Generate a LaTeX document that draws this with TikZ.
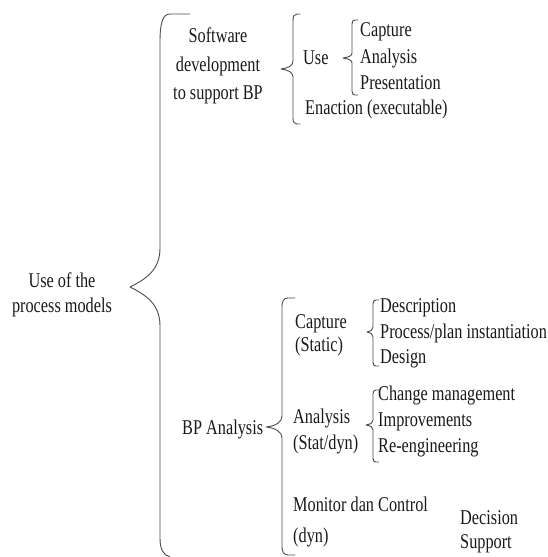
\documentclass[tikz,border=0pt]{standalone}
\usepackage{fontspec}
\setmainfont[FakeStretch=0.775]{Liberation Serif}
\begin{document}
\begin{tikzpicture}[x=1pt,y=-1pt,
  lbl/.style={font=\fontsize{21}{25}\selectfont, inner sep=0pt, text=black!90},
  brc/.style={draw=black!70, line width=0.9pt, line cap=round, line join=round}]
\useasboundingbox (0,0) rectangle (547,557);

% ---------- texts ----------
\node[lbl, anchor=base] (root1) at (62,287) {Use of the};
\node[lbl, anchor=base] (root2) at (62,312) {process models};

\node[lbl, anchor=base] (sw1) at (218,42) {Software};
\node[lbl, anchor=base] (sw2) at (218,71) {development};
\node[lbl, anchor=base] (sw3) at (218,99) {to support BP};

\node[lbl, anchor=base west] (use) at (303,64) {Use};
\node[lbl, anchor=base west] (ucap) at (360,36) {Capture};
\node[lbl, anchor=base west] (uana) at (360,63) {Analysis};
\node[lbl, anchor=base west] (upre) at (360,89) {Presentation};
\node[lbl, anchor=base west] (ena) at (305,114) {Enaction (executable)};

\node[lbl, anchor=base west] (bpa) at (182,434) {BP Analysis};

\node[lbl, anchor=base west] (cap1) at (295,328) {Capture};
\node[lbl, anchor=base west] (cap2) at (295,351) {(Static)};
\node[lbl, anchor=base west] (desc) at (380,312) {Description};
\node[lbl, anchor=base west] (proc) at (380,338) {Process/plan instantiation};
\node[lbl, anchor=base west] (desg) at (380,363) {Design};

\node[lbl, anchor=base west] (ana1) at (293,423) {Analysis};
\node[lbl, anchor=base west] (ana2) at (293,449) {(Stat/dyn)};
\node[lbl, anchor=base west] (chg) at (378,400) {Change management};
\node[lbl, anchor=base west] (imp) at (378,426) {Improvements};
\node[lbl, anchor=base west] (reng) at (378,452) {Re-engineering};

\node[lbl, anchor=base west] (mon1) at (293,511) {Monitor dan Control};
\node[lbl, anchor=base west] (mon2) at (293,542) {(dyn)};
\node[lbl, anchor=base west] (dec1) at (460,524) {Decision};
\node[lbl, anchor=base west] (dec2) at (460,548) {Support};

% ---------- braces ----------
% big brace
\draw[brc] (190,14) -- (170,14) .. controls (163,14) and (160,22) .. (160,42)
  -- (160,248) .. controls (160,270) and (146,279) .. (130,287)
  .. controls (146,295) and (160,304) .. (160,326)
  -- (160,538) .. controls (160,549) and (163,555) .. (170,557);

% software development brace
\draw[brc] (300,14) -- (297,14) .. controls (294,14) and (293,16) .. (293,21)
  -- (293,61) .. controls (293,66) and (288,68) .. (281,69)
  .. controls (288,70) and (293,72) .. (293,77)
  -- (293,118) .. controls (293,122) and (294,124) .. (297,124) -- (300,124);

% use brace
\draw[brc] (358,20) -- (355,20) .. controls (353,20) and (352,21) .. (352,24)
  -- (352,53) .. controls (352,56) and (349,57) .. (343,58)
  .. controls (349,59) and (352,60) .. (352,63)
  -- (352,91) .. controls (352,94) and (353,95) .. (355,95) -- (358,95);

% BP analysis brace
\draw[brc] (295,298) -- (288,298) .. controls (284,298) and (282,301) .. (282,306)
  -- (282,416) .. controls (282,422) and (276,426) .. (266,427)
  .. controls (276,428) and (282,432) .. (282,438)
  -- (282,547) .. controls (282,552) and (284,555) .. (288,555) -- (295,555);

% capture brace
\draw[brc] (379,300) -- (376,300) .. controls (374,300) and (373,301) .. (373,304)
  -- (373,327) .. controls (373,330) and (371,331) .. (367,332)
  .. controls (371,333) and (373,334) .. (373,337)
  -- (373,362) .. controls (373,365) and (374,366) .. (376,366) -- (379,366);

% analysis brace
\draw[brc] (379,390) -- (376,390) .. controls (374,390) and (373,391) .. (373,394)
  -- (373,420) .. controls (373,423) and (371,424) .. (366,425)
  .. controls (371,426) and (373,427) .. (373,430)
  -- (373,458) .. controls (373,461) and (374,462) .. (376,462) -- (379,462);
\end{tikzpicture}
\end{document}
